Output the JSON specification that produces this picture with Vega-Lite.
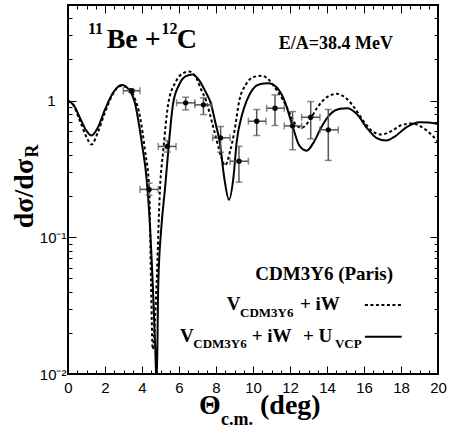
{
  "$schema": "https://vega.github.io/schema/vega-lite/v6.json",
  "width": 370,
  "height": 369,
  "autosize": {"type": "none"},
  "padding": {"left": 68, "top": 5, "right": 13, "bottom": 56},
  "background": "white",
  "data": {"values": [{}]},
  "config": {
    "view": {"stroke": "#000", "strokeWidth": 2},
    "axis": {"domain": false, "grid": false, "tickColor": "#000", "tickWidth": 1, "labelColor": "#000", "title": null, "labelFlush": false, "labelOverlap": false}
  },
  "datasets": {
    "solid": [
      {"x":0,"y":1.0},{"x":0.3,"y":0.93},{"x":0.7,"y":0.72},{"x":1.0,"y":0.6},{"x":1.27,"y":0.555},{"x":1.6,"y":0.63},{"x":2.0,"y":0.86},{"x":2.4,"y":1.12},{"x":2.9,"y":1.3},{"x":3.3,"y":1.2},{"x":3.6,"y":0.98},{"x":4.05,"y":0.432},{"x":4.2,"y":0.31},{"x":4.3,"y":0.224},{"x":4.58,"y":0.046},{"x":4.72,"y":0.015},{"x":4.79,"y":0.008},{"x":4.88,"y":0.046},{"x":5.05,"y":0.12},{"x":5.24,"y":0.224},{"x":5.42,"y":0.43},{"x":5.68,"y":0.95},{"x":6.0,"y":1.3},{"x":6.35,"y":1.5},{"x":6.72,"y":1.55},{"x":7.1,"y":1.4},{"x":7.45,"y":1.15},{"x":7.7,"y":0.97},{"x":8.0,"y":0.66},{"x":8.2,"y":0.5},{"x":8.45,"y":0.27},{"x":8.7,"y":0.188},{"x":8.95,"y":0.28},{"x":9.12,"y":0.5},{"x":9.4,"y":0.78},{"x":9.66,"y":1.0},{"x":10.0,"y":1.22},{"x":10.4,"y":1.32},{"x":10.83,"y":1.34},{"x":11.3,"y":1.24},{"x":11.7,"y":1.0},{"x":12.14,"y":0.65},{"x":12.5,"y":0.47},{"x":12.9,"y":0.43},{"x":13.3,"y":0.5},{"x":13.7,"y":0.64},{"x":14.2,"y":0.8},{"x":14.7,"y":0.87},{"x":15.1,"y":0.88},{"x":15.6,"y":0.8},{"x":16.2,"y":0.62},{"x":16.7,"y":0.53},{"x":17.2,"y":0.51},{"x":17.7,"y":0.55},{"x":18.3,"y":0.64},{"x":19.0,"y":0.695},{"x":19.5,"y":0.69},{"x":20.0,"y":0.675}
    ],
    "dashed": [
      {"x":0,"y":1.0},{"x":0.3,"y":0.92},{"x":0.7,"y":0.68},{"x":1.0,"y":0.54},{"x":1.28,"y":0.477},{"x":1.6,"y":0.58},{"x":2.0,"y":0.82},{"x":2.4,"y":1.1},{"x":2.85,"y":1.28},{"x":3.3,"y":1.22},{"x":3.6,"y":1.05},{"x":3.9,"y":0.75},{"x":4.16,"y":0.432},{"x":4.39,"y":0.224},{"x":4.49,"y":0.046},{"x":4.58,"y":0.0152},{"x":4.7,"y":0.025},{"x":4.79,"y":0.046},{"x":4.97,"y":0.224},{"x":5.15,"y":0.432},{"x":5.42,"y":0.95},{"x":5.8,"y":1.35},{"x":6.2,"y":1.58},{"x":6.56,"y":1.63},{"x":6.95,"y":1.45},{"x":7.2,"y":1.2},{"x":7.46,"y":1.0},{"x":7.8,"y":0.68},{"x":8.04,"y":0.51},{"x":8.3,"y":0.38},{"x":8.49,"y":0.335},{"x":8.75,"y":0.42},{"x":9.0,"y":0.6},{"x":9.26,"y":1.0},{"x":9.6,"y":1.3},{"x":10.0,"y":1.48},{"x":10.47,"y":1.52},{"x":10.9,"y":1.4},{"x":11.3,"y":1.18},{"x":11.64,"y":1.0},{"x":12.0,"y":0.8},{"x":12.3,"y":0.67},{"x":12.63,"y":0.632},{"x":13.0,"y":0.7},{"x":13.5,"y":0.9},{"x":14.0,"y":1.06},{"x":14.52,"y":1.12},{"x":15.0,"y":1.05},{"x":15.5,"y":0.88},{"x":16.0,"y":0.7},{"x":16.5,"y":0.59},{"x":16.95,"y":0.565},{"x":17.5,"y":0.6},{"x":18.0,"y":0.66},{"x":18.6,"y":0.68},{"x":19.2,"y":0.63},{"x":19.6,"y":0.57},{"x":20.0,"y":0.5}
    ],
    "pts": [
      {"x":3.44,"y":1.18,"xlo":2.99,"xhi":3.89,"ylo":1.15,"yhi":1.21},
      {"x":4.38,"y":0.224,"xlo":3.89,"xhi":4.88,"ylo":0.203,"yhi":0.249},
      {"x":5.37,"y":0.462,"xlo":4.88,"xhi":5.84,"ylo":0.42,"yhi":0.51},
      {"x":6.36,"y":0.962,"xlo":5.87,"xhi":6.86,"ylo":0.855,"yhi":1.057},
      {"x":7.32,"y":0.93,"xlo":6.86,"xhi":7.77,"ylo":0.79,"yhi":1.046},
      {"x":8.25,"y":0.534,"xlo":7.82,"xhi":8.76,"ylo":0.419,"yhi":0.646},
      {"x":9.24,"y":0.36,"xlo":8.76,"xhi":9.75,"ylo":0.253,"yhi":0.462},
      {"x":10.2,"y":0.706,"xlo":9.75,"xhi":10.7,"ylo":0.555,"yhi":0.86},
      {"x":11.19,"y":0.879,"xlo":10.74,"xhi":11.69,"ylo":0.657,"yhi":1.1},
      {"x":12.14,"y":0.653,"xlo":11.69,"xhi":12.63,"ylo":0.437,"yhi":0.831},
      {"x":13.12,"y":0.755,"xlo":12.63,"xhi":13.62,"ylo":0.525,"yhi":0.983},
      {"x":14.07,"y":0.611,"xlo":13.62,"xhi":14.61,"ylo":0.365,"yhi":0.86}
    ]
  },
  "resolve": {"scale": {"x": "shared", "y": "shared"}, "axis": {"x": "independent", "y": "independent"}},
  "layer": [
    {
      "data": {"name": "solid"},
      "mark": {"type": "line", "color": "#000", "strokeWidth": 2, "interpolate": "monotone", "clip": true},
      "encoding": {
        "x": {"field": "x", "type": "quantitative", "scale": {"domain": [0, 20], "nice": false, "zero": false},
              "axis": {"orient": "bottom", "values": [0,2,4,6,8,10,12,14,16,18,20], "tickSize": -8, "labelPadding": 14, "labelFont": "Liberation Sans", "labelFontSize": 15}},
        "y": {"field": "y", "type": "quantitative", "scale": {"type": "log", "domain": [0.01, 5], "nice": false},
              "axis": {"orient": "left", "values": [0.01, 0.1, 1], "tickSize": -8, "labelPadding": 10, "labelFont": "Liberation Sans", "labelFontSize": 15,
                       "labelExpr": "datum.value == 1 ? '' : (datum.value == 0.1 ? '10\u207b\u00b9' : '10\u207b\u00b2')"}}
      }
    },
    {
      "data": {"name": "dashed"},
      "mark": {"type": "line", "color": "#000", "strokeWidth": 2, "strokeDash": [3, 2.5], "interpolate": "monotone", "clip": true},
      "encoding": {
        "x": {"field": "x", "type": "quantitative", "scale": {"domain": [0, 20], "nice": false, "zero": false},
              "axis": {"orient": "top", "values": [0,2,4,6,8,10,12,14,16,18,20], "tickSize": -8, "labels": false}},
        "y": {"field": "y", "type": "quantitative", "scale": {"type": "log", "domain": [0.01, 5], "nice": false},
              "axis": {"orient": "right", "values": [0.01, 0.1, 1], "tickSize": -8, "labels": false}}
      }
    },
    {
      "data": {"name": "pts"},
      "mark": {"type": "rule", "color": "#555", "strokeWidth": 1.5},
      "encoding": {
        "x": {"field": "xlo", "type": "quantitative", "scale": {"domain": [0, 20], "nice": false, "zero": false},
              "axis": {"orient": "bottom", "values": [0.5,1,1.5,2.5,3,3.5,4.5,5,5.5,6.5,7,7.5,8.5,9,9.5,10.5,11,11.5,12.5,13,13.5,14.5,15,15.5,16.5,17,17.5,18.5,19,19.5], "tickSize": -4, "labels": false}},
        "x2": {"field": "xhi"},
        "y": {"field": "y", "type": "quantitative", "scale": {"type": "log", "domain": [0.01, 5], "nice": false},
              "axis": {"orient": "left", "values": [0.02,0.03,0.04,0.05,0.06,0.07,0.08,0.09,0.2,0.3,0.4,0.5,0.6,0.7,0.8,0.9,2,3,4], "tickSize": -4, "labels": false}}
      }
    },
    {
      "data": {"name": "pts"},
      "mark": {"type": "rule", "color": "#555", "strokeWidth": 1.5},
      "encoding": {
        "x": {"field": "x", "type": "quantitative", "scale": {"domain": [0, 20], "nice": false, "zero": false},
              "axis": {"orient": "top", "values": [0.5,1,1.5,2.5,3,3.5,4.5,5,5.5,6.5,7,7.5,8.5,9,9.5,10.5,11,11.5,12.5,13,13.5,14.5,15,15.5,16.5,17,17.5,18.5,19,19.5], "tickSize": -4, "labels": false}},
        "y": {"field": "ylo", "type": "quantitative", "scale": {"type": "log", "domain": [0.01, 5], "nice": false},
              "axis": {"orient": "right", "values": [0.02,0.03,0.04,0.05,0.06,0.07,0.08,0.09,0.2,0.3,0.4,0.5,0.6,0.7,0.8,0.9,2,3,4], "tickSize": -4, "labels": false}},
        "y2": {"field": "yhi"}
      }
    },
    {
      "data": {"name": "pts"},
      "mark": {"type": "tick", "color": "#555", "orient": "vertical", "size": 7, "thickness": 1.5},
      "encoding": {
        "x": {"field": "xlo", "type": "quantitative", "scale": {"domain": [0, 20], "nice": false, "zero": false}, "axis": null},
        "y": {"field": "y", "type": "quantitative", "scale": {"type": "log", "domain": [0.01, 5], "nice": false},
              "axis": {"orient": "left", "values": [1], "tickSize": 0, "labelPadding": 13, "labelFont": "Liberation Sans", "labelFontSize": 15, "labelExpr": "'1'"}}
      }
    },
    {
      "data": {"name": "pts"},
      "mark": {"type": "tick", "color": "#555", "orient": "vertical", "size": 7, "thickness": 1.5},
      "encoding": {
        "x": {"field": "xhi", "type": "quantitative", "scale": {"domain": [0, 20], "nice": false, "zero": false}, "axis": null},
        "y": {"field": "y", "type": "quantitative", "scale": {"type": "log", "domain": [0.01, 5], "nice": false}, "axis": null}
      }
    },
    {
      "data": {"name": "pts"},
      "mark": {"type": "tick", "color": "#555", "orient": "horizontal", "size": 7, "thickness": 1.5},
      "encoding": {
        "x": {"field": "x", "type": "quantitative", "scale": {"domain": [0, 20], "nice": false, "zero": false}, "axis": null},
        "y": {"field": "ylo", "type": "quantitative", "scale": {"type": "log", "domain": [0.01, 5], "nice": false}, "axis": null}
      }
    },
    {
      "data": {"name": "pts"},
      "mark": {"type": "tick", "color": "#555", "orient": "horizontal", "size": 7, "thickness": 1.5},
      "encoding": {
        "x": {"field": "x", "type": "quantitative", "scale": {"domain": [0, 20], "nice": false, "zero": false}, "axis": null},
        "y": {"field": "yhi", "type": "quantitative", "scale": {"type": "log", "domain": [0.01, 5], "nice": false}, "axis": null}
      }
    },
    {
      "data": {"name": "pts"},
      "mark": {"type": "point", "filled": true, "color": "#000", "size": 28, "opacity": 1},
      "encoding": {
        "x": {"field": "x", "type": "quantitative", "scale": {"domain": [0, 20], "nice": false, "zero": false}, "axis": null},
        "y": {"field": "y", "type": "quantitative", "scale": {"type": "log", "domain": [0.01, 5], "nice": false}, "axis": null}
      }
    },
    {
      "mark": {"type": "text", "text": "11", "font": "Liberation Serif", "fontWeight": "bold", "fontSize": 16, "align": "left", "baseline": "alphabetic"},
      "encoding": {"x": {"datum": 1.08, "type": "quantitative", "scale": {"domain": [0, 20], "nice": false, "zero": false}, "axis": null}, "y": {"datum": 3.08, "type": "quantitative", "scale": {"type": "log", "domain": [0.01, 5], "nice": false}, "axis": null}}
    },
    {
      "mark": {"type": "text", "text": "Be +", "font": "Liberation Serif", "fontWeight": "bold", "fontSize": 28, "align": "left", "baseline": "alphabetic"},
      "encoding": {"x": {"datum": 2.09, "type": "quantitative", "scale": {"domain": [0, 20], "nice": false, "zero": false}, "axis": null}, "y": {"datum": 2.44, "type": "quantitative", "scale": {"type": "log", "domain": [0.01, 5], "nice": false}, "axis": null}}
    },
    {
      "mark": {"type": "text", "text": "12", "font": "Liberation Serif", "fontWeight": "bold", "fontSize": 16, "align": "left", "baseline": "alphabetic"},
      "encoding": {"x": {"datum": 5.06, "type": "quantitative", "scale": {"domain": [0, 20], "nice": false, "zero": false}, "axis": null}, "y": {"datum": 3.08, "type": "quantitative", "scale": {"type": "log", "domain": [0.01, 5], "nice": false}, "axis": null}}
    },
    {
      "mark": {"type": "text", "text": "C", "font": "Liberation Serif", "fontWeight": "bold", "fontSize": 28, "align": "left", "baseline": "alphabetic"},
      "encoding": {"x": {"datum": 5.88, "type": "quantitative", "scale": {"domain": [0, 20], "nice": false, "zero": false}, "axis": null}, "y": {"datum": 2.44, "type": "quantitative", "scale": {"type": "log", "domain": [0.01, 5], "nice": false}, "axis": null}}
    },
    {
      "mark": {"type": "text", "text": "E/A=38.4 MeV", "font": "Liberation Serif", "fontWeight": "bold", "fontSize": 18, "align": "right", "baseline": "alphabetic"},
      "encoding": {"x": {"datum": 17.57, "type": "quantitative", "scale": {"domain": [0, 20], "nice": false, "zero": false}, "axis": null}, "y": {"datum": 2.38, "type": "quantitative", "scale": {"type": "log", "domain": [0.01, 5], "nice": false}, "axis": null}}
    },
    {
      "mark": {"type": "text", "text": "CDM3Y6 (Paris)", "font": "Liberation Serif", "fontWeight": "bold", "fontSize": 19, "align": "right", "baseline": "alphabetic"},
      "encoding": {"x": {"datum": 17.57, "type": "quantitative", "scale": {"domain": [0, 20], "nice": false, "zero": false}, "axis": null}, "y": {"datum": 0.0485, "type": "quantitative", "scale": {"type": "log", "domain": [0.01, 5], "nice": false}, "axis": null}}
    },
    {
      "mark": {"type": "text", "text": "V", "font": "Liberation Serif", "fontWeight": "bold", "fontSize": 19, "align": "left", "baseline": "alphabetic"},
      "encoding": {"x": {"datum": 8.58, "type": "quantitative", "scale": {"domain": [0, 20], "nice": false, "zero": false}, "axis": null}, "y": {"datum": 0.0293, "type": "quantitative", "scale": {"type": "log", "domain": [0.01, 5], "nice": false}, "axis": null}}
    },
    {
      "mark": {"type": "text", "text": "CDM3Y6", "font": "Liberation Serif", "fontWeight": "bold", "fontSize": 13, "align": "left", "baseline": "alphabetic"},
      "encoding": {"x": {"datum": 9.3, "type": "quantitative", "scale": {"domain": [0, 20], "nice": false, "zero": false}, "axis": null}, "y": {"datum": 0.0262, "type": "quantitative", "scale": {"type": "log", "domain": [0.01, 5], "nice": false}, "axis": null}}
    },
    {
      "mark": {"type": "text", "text": "+ iW", "font": "Liberation Serif", "fontWeight": "bold", "fontSize": 19, "align": "left", "baseline": "alphabetic"},
      "encoding": {"x": {"datum": 12.54, "type": "quantitative", "scale": {"domain": [0, 20], "nice": false, "zero": false}, "axis": null}, "y": {"datum": 0.0293, "type": "quantitative", "scale": {"type": "log", "domain": [0.01, 5], "nice": false}, "axis": null}}
    },
    {
      "mark": {"type": "rule", "color": "#000", "strokeWidth": 2, "strokeDash": [3, 2.5]},
      "encoding": {"x": {"datum": 16.05, "type": "quantitative", "scale": {"domain": [0, 20], "nice": false, "zero": false}, "axis": null}, "x2": {"datum": 18.04}, "y": {"datum": 0.0319, "type": "quantitative", "scale": {"type": "log", "domain": [0.01, 5], "nice": false}, "axis": null}}
    },
    {
      "mark": {"type": "text", "text": "V", "font": "Liberation Serif", "fontWeight": "bold", "fontSize": 19, "align": "left", "baseline": "alphabetic"},
      "encoding": {"x": {"datum": 6.05, "type": "quantitative", "scale": {"domain": [0, 20], "nice": false, "zero": false}, "axis": null}, "y": {"datum": 0.0172, "type": "quantitative", "scale": {"type": "log", "domain": [0.01, 5], "nice": false}, "axis": null}}
    },
    {
      "mark": {"type": "text", "text": "CDM3Y6", "font": "Liberation Serif", "fontWeight": "bold", "fontSize": 13, "align": "left", "baseline": "alphabetic"},
      "encoding": {"x": {"datum": 6.77, "type": "quantitative", "scale": {"domain": [0, 20], "nice": false, "zero": false}, "axis": null}, "y": {"datum": 0.0155, "type": "quantitative", "scale": {"type": "log", "domain": [0.01, 5], "nice": false}, "axis": null}}
    },
    {
      "mark": {"type": "text", "text": "+ iW", "font": "Liberation Serif", "fontWeight": "bold", "fontSize": 19, "align": "left", "baseline": "alphabetic"},
      "encoding": {"x": {"datum": 9.93, "type": "quantitative", "scale": {"domain": [0, 20], "nice": false, "zero": false}, "axis": null}, "y": {"datum": 0.0172, "type": "quantitative", "scale": {"type": "log", "domain": [0.01, 5], "nice": false}, "axis": null}}
    },
    {
      "mark": {"type": "text", "text": "+ U", "font": "Liberation Serif", "fontWeight": "bold", "fontSize": 19, "align": "left", "baseline": "alphabetic"},
      "encoding": {"x": {"datum": 12.7, "type": "quantitative", "scale": {"domain": [0, 20], "nice": false, "zero": false}, "axis": null}, "y": {"datum": 0.0172, "type": "quantitative", "scale": {"type": "log", "domain": [0.01, 5], "nice": false}, "axis": null}}
    },
    {
      "mark": {"type": "text", "text": "VCP", "font": "Liberation Serif", "fontWeight": "bold", "fontSize": 13, "align": "left", "baseline": "alphabetic"},
      "encoding": {"x": {"datum": 14.43, "type": "quantitative", "scale": {"domain": [0, 20], "nice": false, "zero": false}, "axis": null}, "y": {"datum": 0.0155, "type": "quantitative", "scale": {"type": "log", "domain": [0.01, 5], "nice": false}, "axis": null}}
    },
    {
      "mark": {"type": "rule", "color": "#000", "strokeWidth": 2},
      "encoding": {"x": {"datum": 16.05, "type": "quantitative", "scale": {"domain": [0, 20], "nice": false, "zero": false}, "axis": null}, "x2": {"datum": 18.04}, "y": {"datum": 0.0187, "type": "quantitative", "scale": {"type": "log", "domain": [0.01, 5], "nice": false}, "axis": null}}
    },
    {
      "mark": {"type": "text", "text": "\u0398", "font": "Liberation Serif", "fontWeight": "bold", "fontSize": 28, "align": "left", "baseline": "alphabetic"},
      "encoding": {"x": {"datum": 7.08, "type": "quantitative", "scale": {"domain": [0, 20], "nice": false, "zero": false}, "axis": null}, "y": {"datum": 0.00513, "type": "quantitative", "scale": {"type": "log", "domain": [0.01, 5], "nice": false}, "axis": null}}
    },
    {
      "mark": {"type": "text", "text": "c.m.", "font": "Liberation Serif", "fontWeight": "bold", "fontSize": 18, "align": "left", "baseline": "alphabetic"},
      "encoding": {"x": {"datum": 8.27, "type": "quantitative", "scale": {"domain": [0, 20], "nice": false, "zero": false}, "axis": null}, "y": {"datum": 0.00424, "type": "quantitative", "scale": {"type": "log", "domain": [0.01, 5], "nice": false}, "axis": null}}
    },
    {
      "mark": {"type": "text", "text": "(deg)", "font": "Liberation Serif", "fontWeight": "bold", "fontSize": 28, "align": "left", "baseline": "alphabetic"},
      "encoding": {"x": {"datum": 10.38, "type": "quantitative", "scale": {"domain": [0, 20], "nice": false, "zero": false}, "axis": null}, "y": {"datum": 0.00513, "type": "quantitative", "scale": {"type": "log", "domain": [0.01, 5], "nice": false}, "axis": null}}
    },
    {
      "mark": {"type": "text", "text": "d\u03c3/d\u03c3", "font": "Liberation Serif", "fontWeight": "bold", "fontSize": 28, "align": "left", "baseline": "alphabetic", "angle": 270},
      "encoding": {"x": {"datum": -1.89, "type": "quantitative", "scale": {"domain": [0, 20], "nice": false, "zero": false}, "axis": null}, "y": {"datum": 0.1164, "type": "quantitative", "scale": {"type": "log", "domain": [0.01, 5], "nice": false}, "axis": null}}
    },
    {
      "mark": {"type": "text", "text": "R", "font": "Liberation Serif", "fontWeight": "bold", "fontSize": 18, "align": "left", "baseline": "alphabetic", "angle": 270},
      "encoding": {"x": {"datum": -1.62, "type": "quantitative", "scale": {"domain": [0, 20], "nice": false, "zero": false}, "axis": null}, "y": {"datum": 0.384, "type": "quantitative", "scale": {"type": "log", "domain": [0.01, 5], "nice": false}, "axis": null}}
    }
  ]
}
